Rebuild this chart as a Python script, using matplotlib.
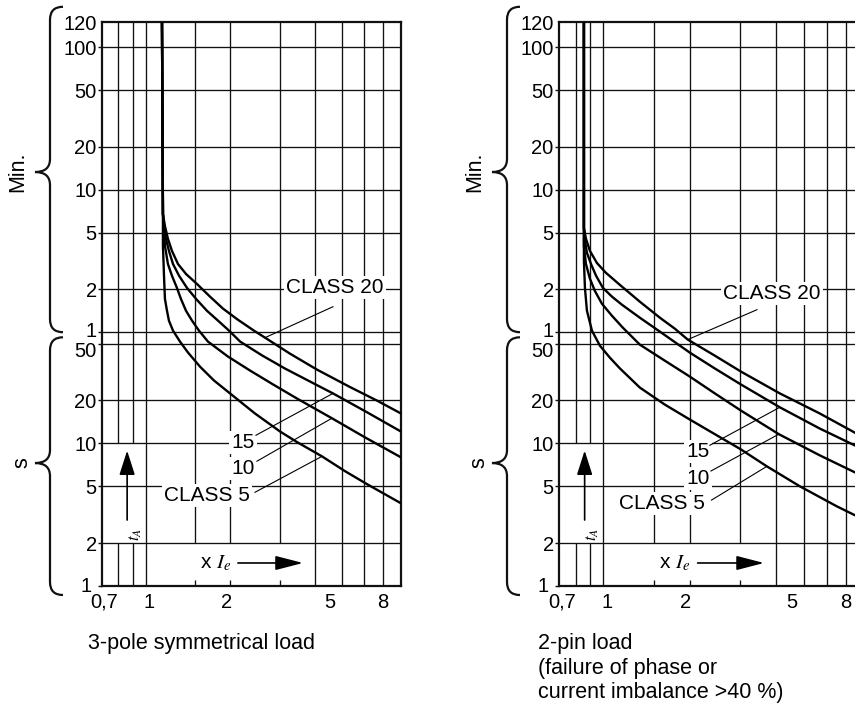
"""
Tripping characteristics of an overload relay (CLASS 5 / 10 / 15 / 20),
3-pole symmetrical load and 2-pin load, on log-log grids.
"""

import matplotlib
matplotlib.use("Agg")
import matplotlib.pyplot as plt
from matplotlib.path import Path
from matplotlib.patches import PathPatch
from matplotlib.ticker import NullLocator

plt.rcParams["font.family"] = ["Liberation Sans", "DejaVu Sans"]
plt.rcParams["mathtext.fontset"] = "stix"

# ── Data: x = multiple of Ie, y = tripping time in seconds ──────────────────
# 3-pole symmetrical load
SYM_C5_I = [1.144, 1.153, 1.153, 1.163, 1.172, 1.192, 1.211, 1.252, 1.326, 1.416,
            1.562, 1.751, 1.997, 2.45, 3.01, 3.46, 4.24, 5.13, 6.14, 8.1]
SYM_C5_T = [9000, 406, 243, 150, 103, 85, 72.5, 61.7, 51.7, 43.3,
            34.5, 27.6, 22.4, 16.2, 12.1, 10.2, 8.11, 6.37, 5.17, 3.80]
SYM_C10_I = [1.144, 1.153, 1.163, 1.172, 1.201, 1.241, 1.293, 1.336, 1.393, 1.463,
             1.549, 1.667, 1.964, 2.353, 2.84, 3.46, 4.6, 6.04, 8.1]
SYM_C10_T = [9000, 406, 309, 243, 181, 150, 123, 103, 85, 72.5,
             61.7, 51.7, 40.6, 32.4, 25.9, 20.6, 15.0, 11.0, 7.98]
SYM_C15_I = [1.144, 1.153, 1.163, 1.182, 1.211, 1.252, 1.315, 1.404, 1.512, 1.654,
             1.81, 1.981, 2.17, 2.60, 3.13, 3.85, 4.64, 6.14, 8.1]
SYM_C15_T = [9000, 406, 334, 272, 224, 181, 150, 123, 103, 85,
             72.5, 61.7, 51.7, 41.3, 33.5, 27.1, 22.4, 16.5, 12.1]
SYM_C20_I = [1.144, 1.153, 1.172, 1.201, 1.241, 1.304, 1.393, 1.524, 1.694, 1.886,
             2.13, 2.43, 2.66, 3.26, 4.07, 5.34, 6.67, 8.1]
SYM_C20_T = [9000, 406, 334, 272, 224, 181, 154, 131, 107, 88,
             73.6, 61.7, 55.1, 42.6, 32.9, 24.8, 19.9, 16.2]

# 2-pin load (failure of phase / current imbalance)
ASY_C5_I = [0.855, 0.855, 0.855, 0.862, 0.876, 0.912, 0.972, 1.053, 1.142, 1.340,
            1.637, 2.0, 2.446, 3.013, 3.714, 4.84, 6.51, 7.64]
ASY_C5_T = [9000, 324, 190, 123, 85, 61.7, 48.4, 39.9, 33.5, 24.6,
            18.7, 14.7, 11.6, 9.08, 6.90, 5.0, 3.62, 3.09]
ASY_C10_I = [0.855, 0.855, 0.855, 0.869, 0.897, 0.934, 0.988, 1.070, 1.169, 1.340,
             1.637, 2.0, 2.446, 3.013, 4.088, 5.68, 7.52]
ASY_C10_T = [9000, 324, 243, 181, 143, 117, 95.3, 78.6, 64.7, 49.2,
             38.0, 29.4, 22.4, 17.0, 11.6, 8.24, 6.27]
ASY_C15_I = [0.855, 0.855, 0.862, 0.876, 0.905, 0.942, 0.996, 1.070, 1.160, 1.340,
             1.574, 2.0, 2.446, 3.013, 4.121, 5.68, 7.52]
ASY_C15_T = [9000, 324, 263, 217, 181, 150, 123, 107, 93.8, 76.0,
             60.7, 43.3, 33.5, 25.9, 17.9, 12.7, 9.68]
ASY_C20_I = [0.855, 0.855, 0.869, 0.897, 0.949, 1.020, 1.142, 1.340, 1.574, 1.774,
             1.968, 2.446, 3.013, 4.121, 5.68, 7.52]
ASY_C20_T = [9000, 324, 272, 224, 184, 157, 129, 98.4, 76.0, 63.7,
             53.4, 41.2, 31.9, 22.4, 16.2, 11.9]

# curve labels with leader lines
LABELS = ["CLASS 20", "15", "10", "CLASS 5"]
SYM_TXT_I = [4.72, 2.22, 2.22, 1.65]
SYM_TXT_T = [123, 10.2, 6.7, 4.33]
SYM_LEAD_I = [(4.64, 2.66), (2.47, 4.64), (2.49, 4.6), (2.45, 4.24)]
SYM_LEAD_T = [(90.8, 55.1), (11.4, 22.4), (7.5, 15.0), (4.54, 8.11)]
ASY_TXT_I = [3.87, 2.14, 2.14, 1.60]
ASY_TXT_T = [112, 8.8, 5.7, 3.8]
ASY_LEAD_I = [(3.43, 1.968), (2.35, 4.121), (2.37, 4.088), (2.38, 3.714)]
ASY_LEAD_T = [(86.5, 53.4), (9.7, 17.9), (6.4, 11.6), (4.0, 6.90)]

# axes scales
X_MIN, X_MAX = 0.7, 8.1
Y_MIN, Y_TOP = 1, 9000
X_GRID = [0.8, 0.9, 1, 1.5, 2, 3, 4, 5, 6, 7]
SEC_TICKS = [1, 2, 5, 10, 20, 50]
MIN_TICKS = [1, 2, 5, 10, 20, 50, 100]
MIN_TOP_LABEL = "120"
# x labels sit where the sheet prints them (slightly off the grid lines)
X_LABEL_POS = [0.715, 1.03, 1.94, 4.54, 7.0]
X_LABELS = ["0,7", "1", "2", "5", "8"]

SYM_TITLE = "3-pole symmetrical load"
ASY_TITLE = "2-pin load\n(failure of phase or\ncurrent imbalance >40 %)"

FIG_W, FIG_H = 855, 705
INK = "#111111"

fig = plt.figure(figsize=(FIG_W / 100, FIG_H / 100), dpi=100)


def add_axes_px(left, right, top=22, bottom=586):
    return fig.add_axes([left / FIG_W, 1 - bottom / FIG_H,
                         (right - left) / FIG_W, (bottom - top) / FIG_H])


def brace(ax, y_bot, y_tip, y_top):
    pos = ax.get_position()
    w, h = pos.width * FIG_W, pos.height * FIG_H
    hx, sx, tx = -39 / w, -52 / w, -67 / w
    r = 13 / h
    verts = [(hx, y_top), (sx, y_top), (sx, y_top - r), (sx, y_tip + r),
             (sx, y_tip), (tx, y_tip), (sx, y_tip), (sx, y_tip - r),
             (sx, y_bot + r), (sx, y_bot), (hx, y_bot)]
    codes = [Path.MOVETO, Path.CURVE3, Path.CURVE3, Path.LINETO,
             Path.CURVE3, Path.CURVE3, Path.CURVE3, Path.CURVE3,
             Path.LINETO, Path.CURVE3, Path.CURVE3]
    ax.add_patch(PathPatch(Path(verts, codes), transform=ax.transAxes,
                           fill=False, lw=1.6, color=INK, clip_on=False))


def draw_panel(ax, curves, txt_i, txt_t, lead_i, lead_t, title, title_dx):
    ax.set_xscale("log")
    ax.set_yscale("log")
    ax.set_xlim(X_MIN, X_MAX)
    ax.set_ylim(Y_MIN, Y_TOP)
    ax.xaxis.set_minor_locator(NullLocator())
    ax.yaxis.set_minor_locator(NullLocator())

    # grid
    h_lines = SEC_TICKS[1:] + [m * 60 for m in MIN_TICKS]
    ax.hlines(h_lines, X_MIN, X_MAX, color=INK, lw=0.95, zorder=1)
    for xv in X_GRID:
        if xv in (0.8, 0.9):          # left free for the t_A arrow
            segs = [(Y_MIN, 2), (10, Y_TOP)]
        elif xv in (1.5, 2, 3):       # left free for the x Ie arrow
            segs = [(Y_MIN, 1.1), (2, Y_TOP)]
        else:
            segs = [(Y_MIN, Y_TOP)]
        for y0, y1 in segs:
            ax.vlines(xv, y0, y1, color=INK, lw=0.95, zorder=1)

    # characteristic curves
    for ci, ct in curves:
        ax.plot(ci, ct, color="black", lw=1.7, zorder=4,
                solid_joinstyle="round")

    # curve labels + leaders
    for lab, xi, yt, li, lt in zip(LABELS, txt_i, txt_t, lead_i, lead_t):
        ax.text(xi, yt, lab, ha="center", va="center", fontsize=15, zorder=3,
                bbox=dict(facecolor="white", edgecolor="none", pad=1.5))
        ax.plot(li, lt, color="black", lw=0.8, zorder=4)

    # axis arrows
    ax.annotate("", xy=(0.86, 8.9), xytext=(0.86, 2.9),
                arrowprops=dict(arrowstyle="-|>,head_length=0.75,head_width=0.24",
                                mutation_scale=20, color="black", lw=1.2,
                                shrinkA=0, shrinkB=0), zorder=5)
    ax.text(0.92, 2.3, "$t_A$", rotation=90, fontsize=12, ha="center",
            va="center", zorder=5)
    ax.text(1.56, 1.45, "x $I_e$", fontsize=15, ha="left", va="center", zorder=5)
    ax.annotate("", xy=(3.63, 1.45), xytext=(2.13, 1.45),
                arrowprops=dict(arrowstyle="-|>,head_length=0.85,head_width=0.22",
                                mutation_scale=20, color="black", lw=1.2,
                                shrinkA=0, shrinkB=0), zorder=5)

    # ticks
    ax.set_xticks(X_LABEL_POS, X_LABELS, fontsize=14.5)
    ax.tick_params(axis="x", length=0, pad=5)
    y_vals = SEC_TICKS + [m * 60 for m in MIN_TICKS]
    ax.set_yticks(y_vals, [""] * len(y_vals))
    ax.tick_params(axis="y", length=3, width=1.0, direction="out", color=INK)
    nudge = {("s", 50): (0, -4.5), ("min", 1): (0, 2.0), ("s", 1): (-4.0, 0.8)}
    for v in SEC_TICKS:
        dx, dy = nudge.get(("s", v), (0, 0))
        ax.annotate(str(v), xy=(0, v), xycoords=("axes fraction", "data"),
                    xytext=(-3.8 + dx, dy), textcoords="offset points",
                    ha="right", va="center_baseline", fontsize=14.5)
    for v in MIN_TICKS:
        dx, dy = nudge.get(("min", v), (0, 0))
        ax.annotate(str(v), xy=(0, v * 60), xycoords=("axes fraction", "data"),
                    xytext=(-3.8 + dx, dy), textcoords="offset points",
                    ha="right", va="center_baseline", fontsize=14.5)
    ax.annotate(MIN_TOP_LABEL, xy=(0, 1), xycoords="axes fraction",
                xytext=(-3.8, 0), textcoords="offset points",
                ha="right", va="center_baseline", fontsize=14.5)

    for sp in ax.spines.values():
        sp.set_linewidth(1.6)
        sp.set_color(INK)

    # unit braces and labels
    w = ax.get_position().width * FIG_W
    brace(ax, 0.450, 0.734, 1.027)
    brace(ax, -0.016, 0.218, 0.441)
    ax.text(-84 / w, 0.734, "Min.", rotation=90, fontsize=15.5,
            ha="center", va="center", transform=ax.transAxes)
    ax.text(-80 / w, 0.218, "s", rotation=90, fontsize=15.5,
            ha="center", va="center", transform=ax.transAxes)

    ax.text(title_dx / w, -0.084, title, fontsize=15.5, ha="left", va="top",
            linespacing=1.22, transform=ax.transAxes)


ax_sym = add_axes_px(102, 401)
ax_asy = add_axes_px(559, 864)

draw_panel(ax_sym,
           [(SYM_C5_I, SYM_C5_T), (SYM_C10_I, SYM_C10_T),
            (SYM_C15_I, SYM_C15_T), (SYM_C20_I, SYM_C20_T)],
           SYM_TXT_I, SYM_TXT_T, SYM_LEAD_I, SYM_LEAD_T, SYM_TITLE, -14)
draw_panel(ax_asy,
           [(ASY_C5_I, ASY_C5_T), (ASY_C10_I, ASY_C10_T),
            (ASY_C15_I, ASY_C15_T), (ASY_C20_I, ASY_C20_T)],
           ASY_TXT_I, ASY_TXT_T, ASY_LEAD_I, ASY_LEAD_T, ASY_TITLE, -21)

fig.savefig("out.png", dpi=100)
